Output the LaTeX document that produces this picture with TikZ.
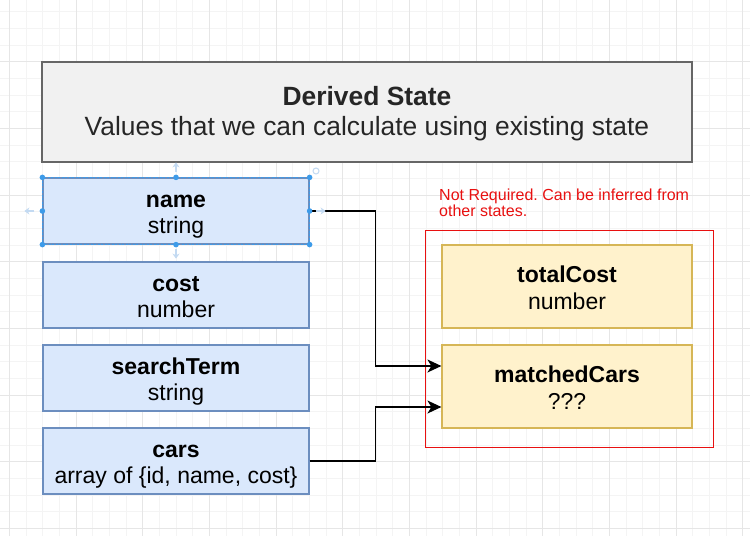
\documentclass[tikz,border=0pt]{standalone}
\usepackage{fontspec}
\setmainfont{Liberation Sans}
\usetikzlibrary{arrows.meta}
\frenchspacing
\definecolor{hdrfill}{HTML}{F1F1F1}
\definecolor{hdrline}{HTML}{666666}
\definecolor{bluefill}{HTML}{DAE8FC}
\definecolor{blueline}{HTML}{6C8EBF}
\definecolor{yelfill}{HTML}{FFF2CC}
\definecolor{yelline}{HTML}{D6B656}
\definecolor{redline}{HTML}{E81010}
\definecolor{selblue}{HTML}{3D9BE9}
\definecolor{selfaint}{HTML}{C3DAF2}
\definecolor{gminor}{HTML}{F4F4F4}
\definecolor{gmajor}{HTML}{E6E6E6}
\newcommand\twolines[4]{\rule{0pt}{#3}\textbf{#1}\\#2\rule[-#4]{0pt}{#4}}
\begin{document}
\begin{tikzpicture}[x=1pt,y=-1pt,
  gridminor/.style={draw=gminor, line width=0.8pt},
  gridmajor/.style={draw=gmajor, line width=0.9pt},
  header/.style={draw=hdrline, fill=hdrfill, line width=1.4pt, minimum width=650pt, minimum height=100pt,
    align=center, text=black!85, font=\fontsize{26.4}{30}\selectfont, inner sep=0pt},
  statebox/.style={draw=blueline, fill=bluefill, line width=1.2pt, minimum width=266pt, minimum height=66pt,
    align=center, font=\fontsize{23}{26.3}\selectfont, inner sep=0pt},
  derivedbox/.style={draw=yelline, fill=yelfill, line width=1.2pt, minimum width=250pt, minimum height=83pt,
    align=center, font=\fontsize{23}{26.3}\selectfont, inner sep=0pt},
  container/.style={draw=redline, line width=1pt, minimum width=288pt, minimum height=217pt, inner sep=0pt},
  note/.style={text=redline, align=left, font=\fontsize{16}{16}\selectfont, inner sep=0pt},
  conn/.style={draw=black, line width=1.5pt, -{Stealth[length=14pt, width=13pt, inset=4pt]}},
  handle/.style={fill=selblue, draw=none},
  faintarrow/.style={draw=selfaint, line width=1.5pt, -{Stealth[length=5pt, width=7pt]}}
]
\useasboundingbox (0,0) rectangle (750,536);
\fill[white] (0,0) rectangle (750,536);
\begin{scope}
\clip (0,0) rectangle (750,536);
\foreach \i in {0,...,45} { \draw[gridminor] ({9.33+16.667*\i},0) -- ({9.33+16.667*\i},536); }
\foreach \j in {0,...,32} { \draw[gridminor] (0,{11.67+16.667*\j}) -- (750,{11.67+16.667*\j}); }
\foreach \i in {0,...,11} { \draw[gridmajor] ({9.33+66.667*\i},0) -- ({9.33+66.667*\i},536); }
\foreach \j in {1,...,8} { \draw[gridmajor] (0,{-5+66.667*\j}) -- (750,{-5+66.667*\j}); }
\end{scope}

% header
\node[header] (hdr) at (367,112) {\twolines{Derived State}{Values that we can calculate using existing state}{22pt}{6pt}};

% state boxes
\node[statebox] (name) at (176,211) {\twolines{name}{string}{25pt}{6pt}};
\node[statebox] (cost) at (176,295) {\twolines{cost}{number}{25pt}{6pt}};
\node[statebox] (search) at (176,378) {\twolines{searchTerm}{string}{25pt}{6pt}};
\node[statebox] (cars) at (176,461) {\twolines{cars}{array of \{id, name, cost\}}{25pt}{6pt}};

% derived container
\node[container] (group) at (569,338.5) {};
\node[note, anchor=north west] (notetext) at (439,188.5) {Not Required. Can be inferred from\\other states.};
\node[derivedbox] (total) at (567,286.5) {\twolines{totalCost}{number}{25pt}{6pt}};
\node[derivedbox] (matched) at (567,386.5) {\twolines{matchedCars}{???}{25pt}{6pt}};

% connectors
\draw[conn] (name.east) -- ++(66,0) |- ([yshift=20.5pt]matched.west);
\draw[conn] (cars.east) -- ++(66,0) |- ([yshift=-20.5pt]matched.west);

% selection handles on name
\draw[selblue, line width=0.7pt, dash pattern=on 2pt off 1.5pt] (name.north west) rectangle (name.south east);
\foreach \a in {north west,north,north east,west,east,south west,south,south east}
  { \fill[handle] (name.\a) circle (2.8pt); }
\draw[faintarrow] ([yshift=5pt]name.north) -- ++(0,-10);
\draw[faintarrow] ([yshift=-4pt]name.south) -- ++(0,10);
\draw[faintarrow] ([xshift=-8pt]name.west) -- ++(-10,0);
\draw[faintarrow] ([xshift=6pt]name.east) -- ++(10,0);
\draw[selfaint, line width=1pt] (316,171) circle (3pt);
\end{tikzpicture}
\end{document}
